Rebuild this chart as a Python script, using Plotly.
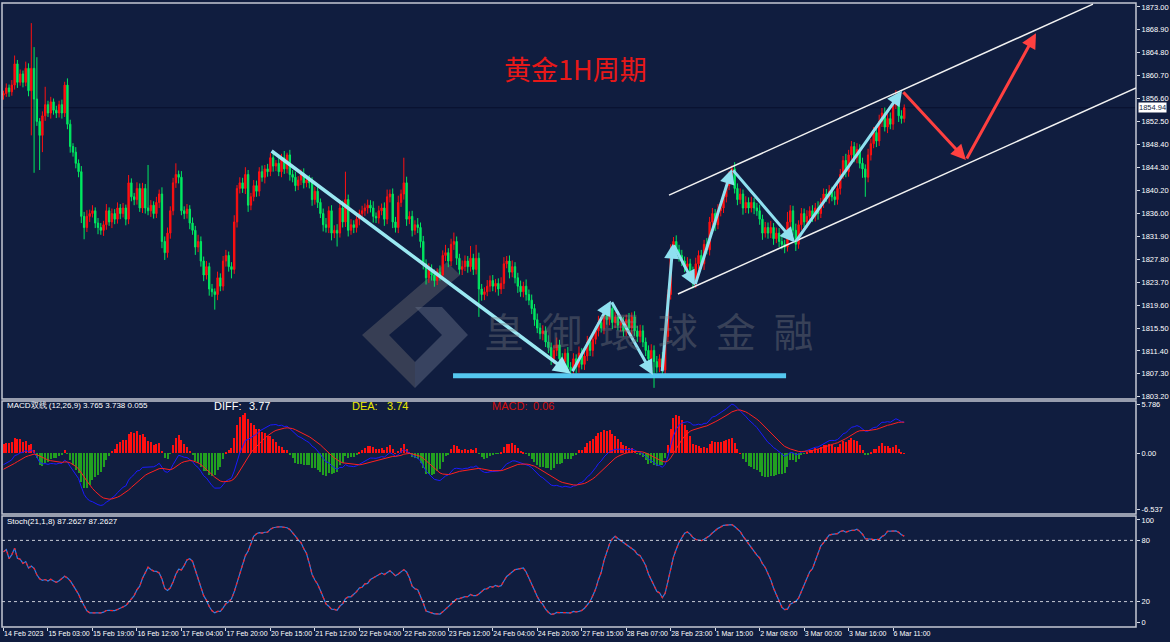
import plotly.graph_objects as go
import pandas as pd

# ---------------- data ----------------
tick_labels = ["14 Feb 2023", "15 Feb 03:00", "15 Feb 19:00", "16 Feb 12:00", "17 Feb 04:00",
               "17 Feb 20:00", "20 Feb 15:00", "21 Feb 12:00", "22 Feb 04:00", "22 Feb 20:00",
               "23 Feb 12:00", "24 Feb 04:00", "24 Feb 20:00", "27 Feb 15:00", "28 Feb 07:00",
               "28 Feb 23:00", "1 Mar 15:00", "2 Mar 08:00", "3 Mar 00:00", "3 Mar 16:00", "6 Mar 11:00"]
bars_per_label = 16

price_ticks = [1873.00, 1868.90, 1864.80, 1860.70, 1856.60, 1852.50, 1848.40, 1844.30, 1840.20,
               1836.00, 1831.90, 1827.80, 1823.70, 1819.60, 1815.50, 1811.40, 1807.30, 1803.20]
macd_ticks = [5.786, 0.0, -6.537]
stoch_ticks = [100, 80, 20, 0]
last_price = 1854.94

# indicator state at the first visible bar
start_diff = -1.5
start_dea = -2.0

first_open = 1857.2
close = [
    1857.5, 1858.5, 1857.8, 1859.0, 1862.8, 1859.5, 1861.0, 1859.5, 1862.0, 1858.0,
    1862.0, 1856.5, 1852.5, 1850.0, 1853.5, 1855.5, 1854.0, 1856.0, 1854.5, 1854.0,
    1855.5, 1854.0, 1859.0, 1852.0, 1848.0, 1847.0, 1845.0, 1843.5, 1835.5, 1833.5,
    1835.5, 1836.0, 1836.5, 1834.3, 1833.5, 1833.0, 1834.0, 1836.5, 1834.5, 1836.0,
    1835.0, 1837.0, 1836.0, 1837.0, 1835.0, 1841.5, 1839.0, 1838.5, 1840.5, 1837.0,
    1840.5, 1837.0, 1836.5, 1837.5, 1836.0, 1838.0, 1839.5, 1831.0, 1829.0, 1832.5,
    1836.5, 1841.5, 1843.0, 1842.5, 1836.5, 1836.0, 1836.8, 1834.3, 1833.0, 1830.0,
    1831.0, 1827.5, 1825.0, 1826.5, 1822.5, 1822.0, 1821.5, 1824.5, 1823.0, 1827.5,
    1828.5, 1826.5, 1826.0, 1834.5, 1840.5, 1841.5, 1840.5, 1843.0, 1837.5, 1839.0,
    1841.0, 1840.0, 1843.5, 1842.5, 1844.0, 1843.5, 1846.0, 1844.5, 1845.0, 1843.5,
    1846.0, 1844.0, 1846.5, 1843.0, 1842.5, 1841.0, 1842.0, 1843.0, 1841.5, 1842.0,
    1841.5, 1838.5, 1840.0, 1838.0, 1836.0, 1834.0, 1833.5, 1836.5, 1832.5, 1833.0,
    1832.5, 1837.0, 1834.5, 1838.5, 1833.0, 1834.0, 1833.5, 1835.0, 1836.0, 1836.5,
    1837.0, 1837.5, 1837.0, 1835.5, 1835.2, 1836.5, 1837.0, 1835.0, 1839.0, 1839.5,
    1834.5, 1833.5, 1838.0, 1839.5, 1841.5, 1835.0, 1835.5, 1833.0, 1834.0, 1833.5,
    1831.0, 1827.0, 1824.5, 1826.0, 1825.0, 1824.0, 1825.5, 1825.0, 1828.5, 1829.0,
    1827.5, 1830.5, 1831.0, 1828.0, 1826.0, 1826.5, 1827.5, 1826.5, 1828.0, 1826.0,
    1828.0, 1822.5, 1821.5, 1822.0, 1823.0, 1824.0, 1823.0, 1823.5, 1822.5, 1823.5,
    1827.0, 1827.5, 1825.5, 1826.5, 1824.5, 1823.0, 1822.0, 1823.0, 1821.5, 1820.5,
    1819.0, 1817.0, 1815.5, 1814.5, 1815.0, 1813.0, 1812.0, 1810.0, 1811.5, 1812.5,
    1810.0, 1809.5, 1811.0, 1808.5, 1808.0, 1810.0, 1808.5, 1811.0, 1809.0, 1810.5,
    1813.0, 1811.5, 1813.5, 1815.0, 1816.5, 1815.5, 1818.0, 1817.0, 1819.0, 1816.5,
    1817.5, 1816.0, 1816.5, 1815.0, 1817.0, 1815.5, 1817.5, 1815.0, 1814.0, 1815.0,
    1813.0, 1811.5, 1810.0, 1811.5, 1809.5, 1808.5, 1810.0, 1808.0, 1814.0, 1821.5,
    1829.5, 1831.0, 1829.5, 1828.5, 1827.5, 1826.5, 1827.0, 1825.5, 1823.5, 1827.0,
    1828.5, 1827.0, 1830.5, 1829.5, 1834.5, 1836.0, 1834.0, 1836.5, 1837.0, 1839.0,
    1841.0, 1842.5, 1844.0, 1840.5, 1838.5, 1839.5, 1837.0, 1838.0, 1837.0, 1838.0,
    1837.0, 1836.5, 1835.0, 1832.5, 1833.5, 1832.5, 1833.5, 1831.5, 1832.5, 1831.0,
    1830.5, 1830.0, 1834.5, 1836.5, 1833.0, 1830.5, 1834.0, 1836.0, 1834.5, 1835.5,
    1836.5, 1835.5, 1837.0, 1836.0, 1838.0, 1839.5, 1839.0, 1840.0, 1839.0, 1838.5,
    1840.5, 1843.0, 1845.5, 1843.5, 1846.5, 1848.0, 1846.0, 1847.5, 1845.0, 1844.0,
    1842.5, 1846.5, 1848.5, 1850.5, 1849.0, 1852.5, 1854.0, 1851.5, 1853.0, 1852.0,
    1855.5, 1857.0, 1853.5, 1853.0, 1854.94,
]
upper_wick = [
    0.5, 0.8, 0.6, 0.9, 1.5, 0.7, 0.8, 0.6, 1.2, 0.9,
    8.1, 3.8, 7.5, 0.6, 0.8, 3.2, 0.7, 0.9, 0.6, 0.8,
    0.7, 0.9, 0.6, 1.2, 0.8, 0.6, 0.9, 0.7, 1.0, 0.8,
    1.1, 0.7, 1.0, 0.6, 0.9, 0.8, 0.7, 1.2, 0.6, 0.9,
    0.8, 1.0, 0.7, 0.9, 0.6, 1.4, 0.8, 0.7, 1.1, 0.9,
    1.0, 0.8, 7.7, 0.9, 0.7, 1.0, 0.8, 1.2, 0.9, 1.0,
    0.8, 0.9, 2.0, 0.7, 1.1, 0.8, 0.9, 0.7, 1.0, 0.8,
    1.2, 0.9, 0.8, 1.0, 0.7, 0.9, 0.6, 1.1, 0.8, 0.9,
    1.0, 0.7, 0.8, 1.2, 0.6, 1.0, 0.9, 1.3, 0.8, 0.7,
    1.0, 0.9, 0.8, 1.1, 0.7, 0.9, 0.8, 1.0, 0.6, 0.9,
    0.7, 1.2, 0.4, 0.9, 0.8, 1.0, 0.7, 0.9, 1.1, 0.8,
    0.9, 1.0, 0.8, 1.1, 0.7, 0.9, 1.2, 0.8, 1.0, 0.9,
    1.1, 0.8, 1.3, 5.0, 0.9, 1.0, 0.8, 1.1, 0.7, 0.9,
    0.8, 1.0, 0.9, 1.2, 0.7, 0.9, 0.8, 1.0, 1.3, 0.8,
    1.0, 0.9, 1.2, 0.8, 4.5, 1.1, 0.9, 1.0, 0.8, 1.2,
    0.9, 1.0, 0.8, 1.1, 0.9, 1.0, 0.7, 1.2, 0.9, 1.4,
    0.8, 1.0, 1.6, 0.9, 0.8, 1.1, 1.0, 0.9, 2.2, 0.8,
    2.4, 1.0, 0.9, 0.8, 1.1, 0.9, 1.0, 0.8, 0.9, 1.1,
    1.2, 0.9, 1.0, 1.1, 0.8, 0.9, 1.0, 0.8, 1.2, 0.9,
    1.0, 0.8, 1.1, 0.9, 1.0, 0.8, 1.2, 0.9, 1.0, 1.3,
    0.9, 1.0, 0.8, 1.1, 0.9, 1.0, 0.8, 1.2, 0.9, 1.0,
    1.1, 0.9, 1.0, 0.8, 1.2, 0.9, 1.0, 0.9, 1.2, 1.0,
    0.9, 1.1, 0.8, 1.0, 0.9, 1.2, 0.8, 1.0, 0.9, 1.1,
    1.0, 0.8, 0.9, 1.1, 0.9, 1.0, 0.8, 1.2, 0.7, 0.9,
    1.0, 0.8, 1.1, 0.9, 1.0, 0.8, 1.2, 0.9, 1.0, 1.1,
    0.9, 1.0, 0.8, 1.1, 0.9, 1.0, 0.8, 1.2, 0.9, 1.0,
    0.8, 1.1, 0.6, 1.2, 0.9, 1.0, 0.8, 1.1, 0.9, 1.0,
    0.8, 0.9, 1.1, 0.8, 1.0, 0.9, 1.2, 0.8, 1.0, 0.9,
    1.1, 0.8, 1.8, 1.0, 0.9, 1.2, 0.8, 1.0, 0.9, 1.1,
    0.8, 1.0, 0.9, 1.2, 0.8, 1.0, 0.9, 1.1, 0.8, 1.0,
    0.9, 1.0, 0.8, 1.2, 0.9, 1.0, 0.8, 1.1, 0.9, 1.0,
    0.8, 1.1, 0.9, 1.0, 0.8, 1.2, 0.9, 1.0, 0.8, 1.1,
    0.9, 1.1, 0.8, 1.0, 0.6,
]
lower_wick = [
    0.8, 0.6, 0.9, 0.7, 0.8, 1.0, 0.6, 0.9, 0.7, 1.0,
    8.0, 13.2, 0.8, 6.2, 3.0, 0.9, 0.7, 1.0, 0.8, 0.9,
    0.8, 1.0, 0.7, 0.9, 1.1, 0.8, 0.9, 1.0, 1.2, 2.1,
    0.8, 1.0, 0.7, 0.9, 1.2, 0.8, 1.0, 0.9, 0.7, 1.1,
    0.9, 0.8, 1.0, 0.7, 1.1, 0.9, 0.8, 1.0, 0.9, 0.7,
    0.9, 1.0, 0.8, 1.1, 0.9, 0.8, 1.0, 1.2, 1.3, 0.9,
    1.0, 0.8, 0.9, 1.1, 0.8, 1.0, 0.9, 1.1, 0.8, 1.4,
    0.9, 1.0, 1.1, 0.8, 1.2, 0.9, 2.7, 1.0, 0.9, 0.8,
    1.0, 0.9, 1.6, 0.8, 1.0, 0.9, 0.8, 1.0, 1.2, 0.9,
    0.8, 1.0, 0.9, 0.8, 1.1, 0.9, 0.8, 1.0, 0.9, 0.8,
    1.0, 0.9, 0.8, 1.1, 0.9, 1.0, 0.8, 0.9, 1.0, 0.8,
    1.0, 1.1, 0.9, 1.0, 0.8, 1.2, 0.9, 1.0, 1.3, 0.9,
    2.4, 0.8, 1.0, 0.9, 1.1, 0.8, 1.0, 0.9, 1.1, 0.8,
    0.9, 1.0, 0.8, 1.1, 0.9, 1.0, 0.8, 1.2, 0.9, 1.0,
    1.1, 0.9, 1.0, 0.8, 1.0, 1.2, 0.9, 1.1, 0.8, 1.0,
    1.1, 1.0, 1.2, 0.9, 1.0, 1.1, 0.8, 1.0, 0.9, 1.0,
    1.1, 0.9, 1.0, 1.2, 0.9, 1.0, 0.8, 1.1, 0.9, 1.0,
    0.9, 5.0, 1.1, 1.0, 0.8, 1.0, 0.9, 1.1, 1.2, 0.9,
    1.0, 0.8, 1.1, 0.9, 1.0, 1.2, 0.9, 1.0, 1.1, 0.9,
    1.0, 1.1, 0.9, 1.0, 1.2, 0.9, 1.0, 1.1, 0.9, 1.0,
    1.1, 0.9, 1.2, 1.0, 1.2, 0.9, 1.1, 1.0, 0.9, 1.0,
    0.9, 1.0, 1.1, 0.9, 1.0, 0.8, 1.1, 0.9, 1.0, 1.2,
    1.0, 0.9, 1.1, 1.0, 0.9, 1.0, 1.2, 0.9, 1.0, 1.1,
    0.9, 1.0, 1.1, 0.9, 4.7, 1.0, 0.9, 1.1, 0.8, 1.0,
    0.9, 1.0, 0.8, 1.1, 0.9, 1.0, 0.8, 1.1, 0.9, 0.8,
    1.0, 0.9, 1.1, 0.8, 1.0, 0.9, 1.1, 0.8, 1.0, 0.9,
    1.0, 0.8, 1.1, 0.9, 1.0, 0.8, 1.2, 0.9, 1.0, 0.8,
    1.1, 0.9, 1.0, 1.2, 0.8, 1.0, 0.9, 1.1, 0.8, 1.0,
    0.9, 1.1, 0.8, 1.0, 0.9, 1.2, 0.8, 1.0, 0.9, 1.1,
    0.8, 1.0, 0.9, 1.1, 0.8, 1.0, 0.9, 1.2, 0.8, 1.0,
    0.9, 1.1, 0.8, 1.0, 0.9, 1.1, 0.8, 1.0, 0.9, 1.6,
    3.5, 0.9, 1.0, 0.8, 1.1, 0.9, 1.0, 0.8, 1.1, 0.9,
    1.0, 0.8, 1.1, 0.9, 0.7,
]

# analyst drawings anchored to (bar index, price)
trend_down = [(95.9, 1847.4), (204.1, 1807.3)]
support = [(161.7, 1806.95), (281.5, 1806.95)]
zigzag_a = [(204.4, 1807.5), (218.5, 1820.4), (233.6, 1807.1)]
zigzag_b = [(236.9, 1807.5), (240.8, 1830.6), (248.7, 1823.1), (262.0, 1844.0), (284.7, 1830.8), (323.2, 1858.0)]
forecast = [(323.2, 1858.0), (346.2, 1845.6), (371.4, 1868.3)]
channel_upper = [(239.4, 1839.3), (391.9, 1873.5)]
channel_lower = [(242.6, 1821.6), (407.4, 1858.5)]

# ---------------- derived ----------------
n = len(close)
idx = list(range(n))
opens = [first_open] + close[:-1]
highs = [max(o, c) + w for o, c, w in zip(opens, close, upper_wick)]
lows = [min(o, c) - w for o, c, w in zip(opens, close, lower_wick)]


def ema_series(values, span, seed):
    a = 2.0 / (span + 1)
    out = []
    prev = seed
    for v in values:
        prev = prev + a * (v - prev)
        out.append(prev)
    return out


ema12 = ema_series(close, 12, close[0] + start_diff / 2)
ema26 = ema_series(close, 26, close[0] - start_diff / 2)
diff = [a - b for a, b in zip(ema12, ema26)]
dea = ema_series(diff, 9, start_dea)
macd = [2 * (a - b) for a, b in zip(diff, dea)]

s = pd.Series(close)
ll = pd.Series(lows).rolling(21, min_periods=1).min()
hh = pd.Series(highs).rolling(21, min_periods=1).max()
num = (s - ll).rolling(8, min_periods=1).sum()
den = (hh - ll).rolling(8, min_periods=1).sum()
stoch = list(100 * num / den)

# ---------------- styling ----------------
BG = "#101d3f"
AXC = "#d8dce6"
FONT = "Liberation Sans, Arial, sans-serif"
W, H = 1170, 642
ML, MR, MT, MB = 2, 34, 3, 15
PW, PH = W - ML - MR, H - MT - MB


def px(xp):
    return (xp - ML) / PW


def py(yp):
    return (H - MB - yp) / PH


main_dom = [py(399), 1.0]
macd_dom = [py(514), py(401)]
stoch_dom = [0.0, py(516)]

fig = go.Figure()

fig.add_trace(go.Candlestick(
    x=idx, open=opens, high=highs, low=lows, close=close,
    increasing=dict(line=dict(color="#ff1010", width=1), fillcolor="#ff1010"),
    decreasing=dict(line=dict(color="#00e860", width=1), fillcolor="#00e860"),
    whiskerwidth=0, xaxis="x", yaxis="y", showlegend=False, hoverinfo="skip"))

fig.add_trace(go.Bar(
    x=idx, y=macd, marker=dict(color=["#ff1010" if v >= 0 else "#22a020" for v in macd], line=dict(width=0)),
    width=0.72, xaxis="x", yaxis="y2", showlegend=False, hoverinfo="skip"))
fig.add_trace(go.Scatter(x=idx, y=diff, mode="lines", line=dict(color="#1a1aff", width=1),
                         xaxis="x", yaxis="y2", showlegend=False, hoverinfo="skip"))
fig.add_trace(go.Scatter(x=idx, y=dea, mode="lines", line=dict(color="#ff2020", width=1),
                         xaxis="x", yaxis="y2", showlegend=False, hoverinfo="skip"))

fig.add_trace(go.Scatter(x=idx, y=stoch, mode="lines", line=dict(color="#2f7fe8", width=1.2),
                         xaxis="x", yaxis="y3", showlegend=False, hoverinfo="skip"))
fig.add_trace(go.Scatter(x=idx, y=stoch, mode="lines", line=dict(color="#ff2020", width=1.2, dash="dot"),
                         xaxis="x", yaxis="y3", showlegend=False, hoverinfo="skip"))

x_lo = -0.54
x_hi = x_lo + PW / 2.78

tickfont = dict(family=FONT, size=7.5, color="#ffffff")
yax_common = dict(side="right", anchor="x", showgrid=False, zeroline=False, ticks="outside",
                  ticklen=3, tickcolor=AXC, tickfont=tickfont, showline=False, fixedrange=True,
                  automargin=False)

fig.update_layout(
    width=W, height=H, margin=dict(l=ML, r=MR, t=MT, b=MB, autoexpand=False),
    paper_bgcolor=BG, plot_bgcolor=BG, bargap=0,
    xaxis=dict(domain=[0, 1], anchor="y3", range=[x_lo, x_hi], showgrid=False, zeroline=False,
               rangeslider=dict(visible=False), automargin=False, tickangle=0,
               tickvals=[i * bars_per_label for i in range(len(tick_labels))], ticktext=tick_labels,
               ticks="outside", ticklen=3, tickcolor=AXC, ticklabelposition="outside right",
               tickfont=dict(family=FONT, size=7, color="#ffffff"), showline=False),
    yaxis=dict(domain=main_dom, range=[1802.8, 1873.7], tickvals=price_ticks,
               ticktext=[f"{v:.2f}" for v in price_ticks], **yax_common),
    yaxis2=dict(domain=macd_dom, range=[-7.12, 6.14], tickvals=macd_ticks,
                ticktext=["5.786", "0.00", "-6.537"], **yax_common),
    yaxis3=dict(domain=stoch_dom, range=[-4.9, 103.9], tickvals=stoch_ticks,
                ticktext=[str(v) for v in stoch_ticks], **yax_common),
)

shapes = []
# panel frames
for dom in (main_dom, macd_dom, stoch_dom):
    shapes.append(dict(type="rect", xref="paper", yref="paper", x0=0, x1=1, y0=dom[0], y1=dom[1],
                       line=dict(color="#c4c8d4", width=1.5), fillcolor="rgba(0,0,0,0)"))
# current price line
shapes.append(dict(type="line", xref="paper", yref="y", x0=0, x1=1, y0=last_price, y1=last_price,
                   line=dict(color="#08102e", width=1), layer="below"))
# stoch levels
for lv in (80, 20):
    shapes.append(dict(type="line", xref="paper", yref="y3", x0=0, x1=1, y0=lv, y1=lv,
                       line=dict(color="#c8ccd6", width=1, dash="dot")))
# watermark logo
left_piece = [(447, 262), (362, 335), (415, 388), (415, 362), (389, 335), (460, 275)]
right_piece = [(415, 307), (442, 307), (468, 335), (415, 388), (415, 362), (442, 335)]


def poly(pts):
    return "M " + " L ".join(f"{px(a):.4f},{py(b):.4f}" for a, b in pts) + " Z"


shapes.append(dict(type="path", xref="paper", yref="paper", path=poly(left_piece),
                   fillcolor="rgba(105,105,110,0.45)", line=dict(width=0), layer="below"))
shapes.append(dict(type="path", xref="paper", yref="paper", path=poly(right_piece),
                   fillcolor="rgba(95,105,130,0.5)", line=dict(width=0), layer="below"))
# channel lines and support
for seg, col, wd in ((channel_upper, "#f2f2f2", 1.5), (channel_lower, "#f2f2f2", 1.5),
                     (support, "#55c8f0", 5)):
    shapes.append(dict(type="line", xref="x", yref="y", x0=seg[0][0], y0=seg[0][1],
                       x1=seg[1][0], y1=seg[1][1], line=dict(color=col, width=wd)))

annotations = []


def arrows(pts, color, width=3):
    for (x0, y0), (x1, y1) in zip(pts[:-1], pts[1:]):
        annotations.append(dict(x=x1, y=y1, ax=x0, ay=y0, xref="x", yref="y", axref="x", ayref="y",
                                text="", showarrow=True, arrowhead=2, arrowsize=1, arrowwidth=width,
                                arrowcolor=color, standoff=0, startstandoff=0))


arrows(trend_down, "#9ae8f2", 3.5)
arrows(zigzag_a, "#8fe0f0", 3)
arrows(zigzag_b, "#8fe0f0", 3)
arrows(forecast, "#ff4040", 3)

# watermark text (single text, spaced characters)
watermark = "&nbsp;&nbsp;".join("皇御環球金融")
annotations.append(dict(x=px(649), y=py(330), xref="paper", yref="paper", text=watermark, showarrow=False,
                        font=dict(family="Noto Sans CJK TC", size=40, color="rgba(125,125,130,0.38)")))

# title
annotations.append(dict(x=px(575), y=py(47), xref="paper", yref="paper", text="黄金1H周期", showarrow=False,
                        font=dict(family="Noto Sans CJK SC", size=27, color="#e81818")))

# last price label
annotations.append(dict(x=1.0, y=last_price, xref="paper", yref="y", text=f"{last_price:.2f}",
                        showarrow=False, xanchor="left", xshift=2, bgcolor="#ffffff",
                        font=dict(family=FONT, size=7.5, color="#101d3f"), borderpad=0))

# indicator headers
hdr = [
    (5, 406, "MACD双线 (12,26,9) 3.765 3.738 0.055", "#ffffff", 8),
    (212, 406, "DIFF:", "#ffffff", 11),
    (247, 406, "3.77", "#ffffff", 11),
    (350, 406, "DEA:", "#e8e800", 11),
    (385, 406, "3.74", "#e8e800", 11),
    (490, 406, "MACD:", "#d01010", 11),
    (531, 406, "0.06", "#d01010", 11),
    (5, 521, "Stoch(21,1,8) 87.2627 87.2627", "#ffffff", 8),
]
for xp, yp, t, c, sz in hdr:
    annotations.append(dict(x=px(xp), y=py(yp), xref="paper", yref="paper", text=t, showarrow=False,
                            xanchor="left", yanchor="middle",
                            font=dict(family=FONT, size=sz, color=c)))

fig.update_layout(shapes=shapes, annotations=annotations)
fig.write_html("out.html")
